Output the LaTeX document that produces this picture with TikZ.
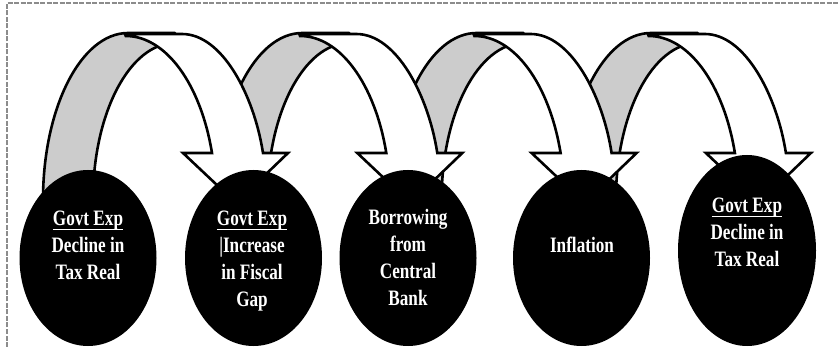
\documentclass[tikz,border=0pt]{standalone}
\usepackage{fontspec}
\usetikzlibrary{shapes.geometric}
\newfontfamily\lblfont{Liberation Serif}[FakeStretch=0.78]
\definecolor{bandgray}{gray}{0.8}
\definecolor{framegray}{gray}{0.55}
\newcommand\govul[1]{\setbox0\hbox{#1}\leavevmode\rlap{\rule[-5.2pt]{\wd0}{1.8pt}}\box0}
\newcommand\firststrut{\rule{0pt}{18pt}}
\tikzset{
  blob/.style={ellipse, fill=black, inner sep=0pt, minimum width=137pt, minimum height=176pt},
  lbl/.style={text=white, font=\lblfont\bfseries\fontsize{22}{27}\selectfont, align=center, inner sep=0pt, anchor=north},
  framed/.style={draw=framegray, line width=1.3pt, dash pattern=on 5pt off 1.5pt},
  arrowline/.style={draw=black, line width=2.6pt, line join=round},
  pics/carrow/.style={code={
    \path[arrowline, fill=bandgray]
      (43,215) -- (43,200) arc[start angle=180, end angle=270, x radius=85, y radius=167]
      -- (175,33) -- (175,43) arc[start angle=270, end angle=180, x radius=82, y radius=157]
      -- (93,215) -- cycle;
    \path[arrowline, fill=white, line join=miter]
      (125,34) -- (182,34) .. controls (222,34) and (254,95) .. (263,153)
      -- (288,153) -- (236,203) -- (183,153) -- (212,153)
      arc[start angle=343.35, end angle=270, x radius=90, y radius=164] -- cycle;
  }}
}
\begin{document}
\begin{tikzpicture}[x=1pt, y=-1pt]
  \useasboundingbox (0,0) rectangle (838,347);
  \draw[framed] (7,347) -- (7,3) -- (838,3);
  % curved arrows, drawn from last to first so that each lies over the next
  \pic at (522.9,0) {carrow};
  \pic at (348.6,0) {carrow};
  \pic at (174.3,0) {carrow};
  \pic at (0,0) {carrow};
  % ellipses
  \node[blob] (e1) at (88,258) {};
  \node[blob] (e2) at (253.5,258) {};
  \node[blob] (e3) at (408,258) {};
  \node[blob] (e4) at (581.5,258) {};
  \node[blob, minimum width=138pt, minimum height=191pt] (e5) at (747,250.5) {};
  % labels
  \node[lbl] (t1) at (88,207) {\firststrut\govul{Govt Exp}\\Decline in\\Tax Real};
  \node[lbl] (t2) at (252,207) {\firststrut\govul{Govt Exp}\\|Increase\\in Fiscal\\Gap};
  \node[lbl] (t3) at (408,206) {\firststrut Borrowing\\from\\Central\\Bank};
  \node[lbl] (t4) at (582,234) {\firststrut Inflation};
  \node[lbl] (t5) at (747,194) {\firststrut\govul{Govt Exp}\\Decline in\\Tax Real};
\end{tikzpicture}
\end{document}
